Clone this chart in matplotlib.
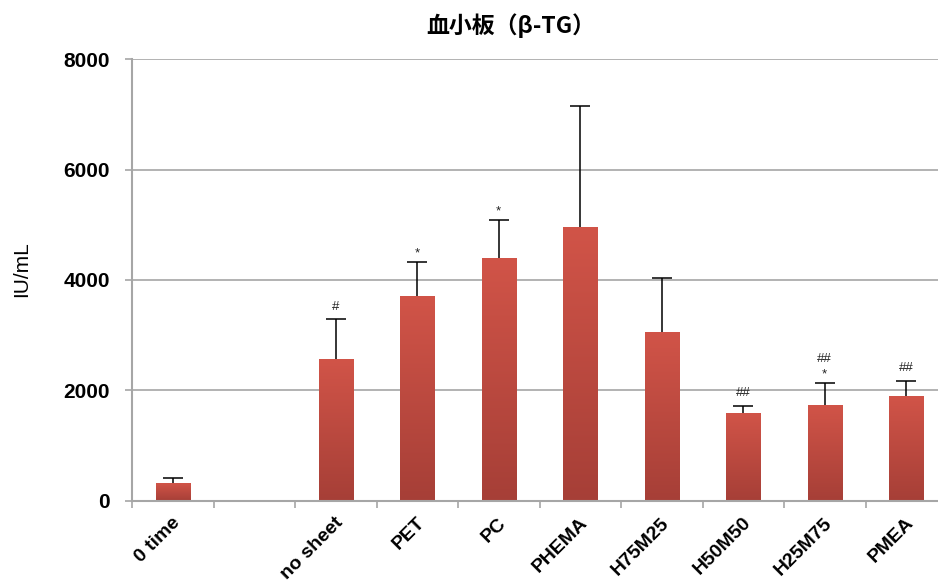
import numpy as np
import matplotlib
matplotlib.use("Agg")
import matplotlib.pyplot as plt
from matplotlib.transforms import offset_copy, ScaledTranslation

# ------------------ DATA ------------------

categories = ["0 time", "", "no sheet", "PET", "PC", "PHEMA",
              "H75M25", "H50M50", "H25M75", "PMEA"]
beta_tg = [310, np.nan, 2560, 3710, 4390, 4965, 3050, 1595, 1735, 1895]
beta_tg_sd = [95, np.nan, 725, 620, 705, 2190, 980, 125, 400, 272]
# significance marks, listed from the bottom line upwards
marks = [[], [], ["#"], ["*"], ["*"], [], [], ["##"], ["*", "##"], ["##"]]

TITLE = "血小板（β-TG）"
YLABEL = "IU/mL"

# ------------------ STYLE ------------------

plt.rcParams["font.family"] = ["Liberation Sans", "DejaVu Sans"]
GRID_GRAY = "#a6a6a6"
TOP_RED = "#d15448"
BOTTOM_RED = "#a63f37"

fig = plt.figure(figsize=(9.38, 5.85), dpi=100)
ax = fig.add_axes([132 / 938, 84.5 / 585, 815 / 938, 441.2 / 585])

x = np.arange(len(categories))
width = 0.42

# vertical red gradient for the bar faces
grad = np.linspace(1, 0, 256).reshape(-1, 1)
cmap = matplotlib.colors.LinearSegmentedColormap.from_list("bar", [BOTTOM_RED, TOP_RED])

for xi, val, sd, mk in zip(x, beta_tg, beta_tg_sd, marks):
    if np.isnan(val):
        continue
    ax.imshow(grad, extent=[xi - width / 2, xi + width / 2, 0, val],
              cmap=cmap, aspect="auto", zorder=2, interpolation="bicubic")
    _, caps, _ = ax.errorbar(xi, val, yerr=[[0], [sd]], fmt="none", ecolor="black",
                             elinewidth=1.1, capsize=7.5, capthick=1.1, zorder=3)
    caps[0].set_visible(False)  # plus-only error bar, no cap on the bar top
    # stack the marks above the error bar
    for i, m in enumerate(mk):
        dy = 5 if m == "*" else 9.5
        if i > 0:
            dy = 20.5
        tr = offset_copy(ax.transData, fig=fig, x=0, y=dy * 72 / 100, units="points")
        ax.text(xi, val + sd, m, transform=tr, ha="center", va="baseline",
                fontsize=9.5, color="#222222", zorder=4)

ax.set_xlim(-0.5, len(categories) - 0.5)
ax.set_ylim(0, 8000)
ax.set_yticks([0, 2000, 4000, 6000, 8000])
ax.yaxis.grid(True, color=GRID_GRAY, linewidth=1.2, zorder=0)
ax.set_axisbelow(True)

for s in ["top", "right"]:
    ax.spines[s].set_visible(False)
for s in ["left", "bottom"]:
    ax.spines[s].set_color(GRID_GRAY)
    ax.spines[s].set_linewidth(1.5)

ax.tick_params(axis="y", length=5, width=1.2, color=GRID_GRAY, pad=11,
               labelsize=15)
for lbl in ax.get_yticklabels():
    lbl.set_fontweight("bold")

# category boundaries carry the ticks, category centres carry the labels
ax.set_xticks(np.arange(len(categories) + 1) - 0.5)
ax.set_xticklabels([])
ax.tick_params(axis="x", which="major", length=5, width=1.2, color=GRID_GRAY)
ax.set_xticks(x, minor=True)
ax.set_xticklabels(categories, minor=True, rotation=45, ha="right",
                   rotation_mode="anchor", fontsize=14, fontweight="bold")
ax.tick_params(axis="x", which="minor", length=0, pad=10)
for lbl in ax.get_xticklabels(minor=True):
    lbl.set_transform(lbl.get_transform() + ScaledTranslation(-1 / 100, 0, fig.dpi_scale_trans))

fig.text(22 / 938, 1 - 269 / 585, YLABEL, rotation=90, ha="center", va="center",
         fontsize=15)
fig.text(511 / 938, 1 - 26 / 585, TITLE, ha="center", va="center",
         fontsize=16.5, fontweight="bold",
         family=["Noto Sans CJK JP", "DejaVu Sans"])

fig.savefig("out.png", dpi=100, facecolor="white")
